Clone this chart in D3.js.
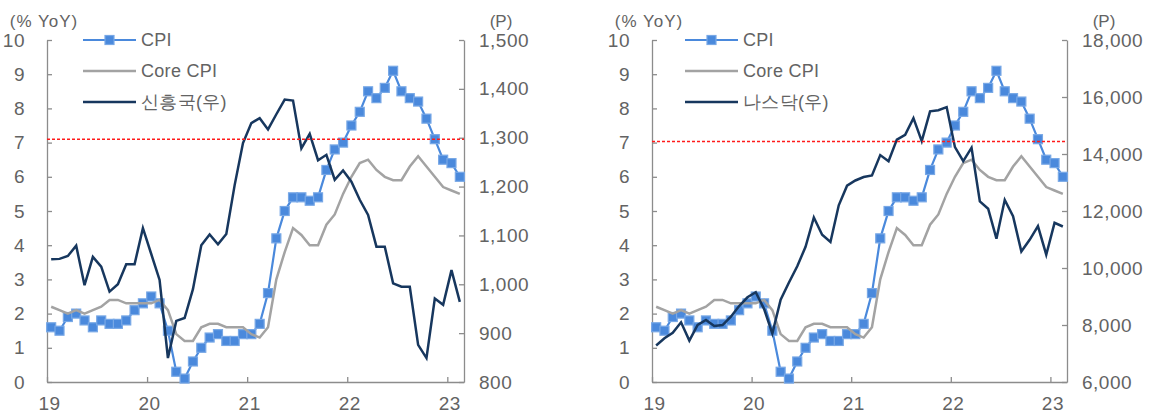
<!DOCTYPE html>
<html>
<head>
<meta charset="utf-8">
<script src="https://cdn.jsdelivr.net/npm/d3@7"></script>
<style>
    body { margin: 0; background: #fff; }
    text { font-family: "Liberation Sans", Arial, sans-serif; fill: #636363; }
</style>
</head>
<body>
<svg id="SVG_CONTAINER" width="1154" height="413"></svg>
<script>
// ** DATA (monthly, Jan 2019 - Feb 2023) *****************************
const yearLabels = ["19", "20", "21", "22", "23"];
const yearTickMonths = [0, 12, 24, 36, 48];

const cpi = [1.6, 1.5, 1.9, 2.0, 1.8, 1.6, 1.8, 1.7, 1.7, 1.8, 2.1, 2.3,
             2.5, 2.3, 1.5, 0.3, 0.1, 0.6, 1.0, 1.3, 1.4, 1.2, 1.2, 1.4,
             1.4, 1.7, 2.6, 4.2, 5.0, 5.4, 5.4, 5.3, 5.4, 6.2, 6.8, 7.0,
             7.5, 7.9, 8.5, 8.3, 8.6, 9.1, 8.5, 8.3, 8.2, 7.7, 7.1, 6.5,
             6.4, 6.0];

const coreCpi = [2.2, 2.1, 2.0, 2.1, 2.0, 2.1, 2.2, 2.4, 2.4, 2.3, 2.3, 2.3,
                 2.3, 2.4, 2.1, 1.4, 1.2, 1.2, 1.6, 1.7, 1.7, 1.6, 1.6, 1.6,
                 1.4, 1.3, 1.6, 3.0, 3.8, 4.5, 4.3, 4.0, 4.0, 4.6, 4.9, 5.5,
                 6.0, 6.4, 6.5, 6.2, 6.0, 5.9, 5.9, 6.3, 6.6, 6.3, 6.0, 5.7,
                 5.6, 5.5];

// 신흥국 index (right axis, P)
const emIndex = [1051, 1052, 1058, 1079, 998, 1056, 1036, 985, 1000, 1041, 1041, 1115,
                 1062, 1009, 849, 925, 931, 990, 1080, 1102, 1082, 1103, 1203, 1289,
                 1330, 1340, 1317, 1348, 1378, 1376, 1278, 1308, 1254, 1265, 1214, 1233,
                 1210, 1173, 1142, 1077, 1077, 1002, 995, 995, 876, 849, 971, 958,
                 1029, 964];

// 나스닥 index (right axis, P)
const nasdaq = [7282, 7533, 7729, 8095, 7453, 8006, 8175, 7963, 7999, 8292, 8665, 8973,
                9151, 8567, 7700, 8890, 9490, 10059, 10745, 11775, 11168, 10912, 12199, 12888,
                13071, 13192, 13247, 13962, 13749, 14504, 14673, 15259, 14449, 15498, 15538, 15645,
                14240, 13751, 14221, 12335, 12081, 11028, 12391, 11816, 10576, 10988, 11468, 10466,
                11585, 11456];

const leftTicks = [0, 1, 2, 3, 4, 5, 6, 7, 8, 9, 10];
const emTicks = [800, 900, 1000, 1100, 1200, 1300, 1400, 1500];
const nasdaqTicks = [6000, 8000, 10000, 12000, 14000, 16000, 18000];

const legendNames = ["CPI", "Core CPI"];
const refLevels = [7.1, 7.03];   // red dashed line, left-axis units

const COLORS = {
    cpi: "#4a89dc",
    cpiEdge: "#78a8e6",
    core: "#a3a3a3",
    idx: "#17375e",
    axis: "#8c8c8c",
    ref: "#ff1a1a"
};

const TOP = 40, BOTTOM = 382;

let svg = d3.select("#SVG_CONTAINER");

/**
 * Draws one dual-axis panel
 */
function drawPanel(opt) {
    let g = svg.append("g");

    let x = d3.scaleLinear().domain([0, 50]).range([opt.x0, opt.x1]);
    let yL = d3.scaleLinear().domain([0, 10]).range([BOTTOM, TOP]);
    let yR = d3.scaleLinear().domain([opt.rTicks[0], opt.rTicks[opt.rTicks.length - 1]]).range([BOTTOM, TOP]);
    let xm = i => x(i + 0.5);

    //** AXES *****************************************
    let xAxis = d3.axisBottom(x)
        .tickValues(yearTickMonths)
        .tickFormat((d, i) => yearLabels[i])
        .tickSizeInner(-5).tickSizeOuter(0).tickPadding(15);
    let gx = g.append("g").attr("transform", "translate(0," + BOTTOM + ")").call(xAxis);
    gx.selectAll("text").attr("dx", 2);

    let leftAxis = d3.axisLeft(yL).tickValues(leftTicks)
        .tickSizeInner(-5).tickSizeOuter(0).tickPadding(22);
    let gl = g.append("g").attr("transform", "translate(" + opt.x0 + ",0)").call(leftAxis);

    let rightAxis = d3.axisRight(yR).tickValues(opt.rTicks)
        .tickFormat(d3.format(","))
        .tickSizeInner(-5).tickSizeOuter(0).tickPadding(15);
    let gr = g.append("g").attr("transform", "translate(" + opt.x1 + ",0)").call(rightAxis);

    [gx, gl, gr].forEach(a => {
        a.selectAll("path, line").attr("stroke", COLORS.axis).attr("stroke-width", 1.3);
        a.selectAll("text").style("font-size", "19px").style("letter-spacing", "0.5px")
            .attr("fill", "#636363");
    });

    g.append("text").attr("x", opt.x0 - 3).attr("y", 27).attr("text-anchor", "middle")
        .style("font-size", "17px").style("letter-spacing", "1px").text("(% YoY)");
    g.append("text").attr("x", opt.x1 + 37).attr("y", 27).attr("text-anchor", "middle")
        .style("font-size", "17px").text("(P)");

    //** SERIES *****************************************
    let lineL = d3.line().x((d, i) => xm(i)).y(d => yL(d));
    let lineR = d3.line().x((d, i) => xm(i)).y(d => yR(d));

    g.append("path").datum(cpi).attr("d", lineL)
        .attr("fill", "none").attr("stroke", COLORS.cpi).attr("stroke-width", 2.2);
    g.append("g").selectAll("rect").data(cpi).enter().append("rect")
        .attr("x", (d, i) => xm(i) - 4.5).attr("y", d => yL(d) - 4.5)
        .attr("width", 9).attr("height", 9)
        .attr("fill", COLORS.cpi).attr("stroke", COLORS.cpiEdge).attr("stroke-width", 1.2);

    g.append("path").datum(coreCpi).attr("d", lineL)
        .attr("fill", "none").attr("stroke", COLORS.core).attr("stroke-width", 2.5);

    g.append("path").datum(opt.rData).attr("d", lineR)
        .attr("fill", "none").attr("stroke", COLORS.idx).attr("stroke-width", 2.5)
        .attr("stroke-linejoin", "miter");

    // reference line
    g.append("line")
        .attr("x1", opt.x0).attr("x2", opt.x1)
        .attr("y1", yL(opt.ref)).attr("y2", yL(opt.ref))
        .attr("stroke", COLORS.ref).attr("stroke-width", 1.5)
        .attr("stroke-dasharray", "3,2");

    //** LEGEND *****************************************
    let lx = opt.legendX, lw = 53;
    let names = legendNames.concat([opt.rName]);
    let cols = [COLORS.cpi, COLORS.core, COLORS.idx];
    let ly = [40, 71, 102];
    for (let i = 0; i < names.length; i++) {
        g.append("line").attr("x1", lx).attr("x2", lx + lw)
            .attr("y1", ly[i]).attr("y2", ly[i])
            .attr("stroke", cols[i]).attr("stroke-width", i == 0 ? 2.2 : 2.5);
        if (i == 0) {
            g.append("rect").attr("x", lx + lw / 2 - 4.5).attr("y", ly[i] - 4.5)
                .attr("width", 9).attr("height", 9)
                .attr("fill", COLORS.cpi).attr("stroke", COLORS.cpiEdge).attr("stroke-width", 1.2);
        }
        g.append("text").attr("x", lx + lw + 5).attr("y", ly[i])
            .attr("dy", "0.36em").style("font-size", "18px").style("letter-spacing", "0.3px")
            .text(names[i]);
    }
}

drawPanel({x0: 47, x1: 464, rTicks: emTicks, rData: emIndex, rName: "신흥국(우)", ref: refLevels[0], legendX: 83});
drawPanel({x0: 652, x1: 1067, rTicks: nasdaqTicks, rData: nasdaq, rName: "나스닥(우)", ref: refLevels[1], legendX: 685});
</script>
</body>
</html>
